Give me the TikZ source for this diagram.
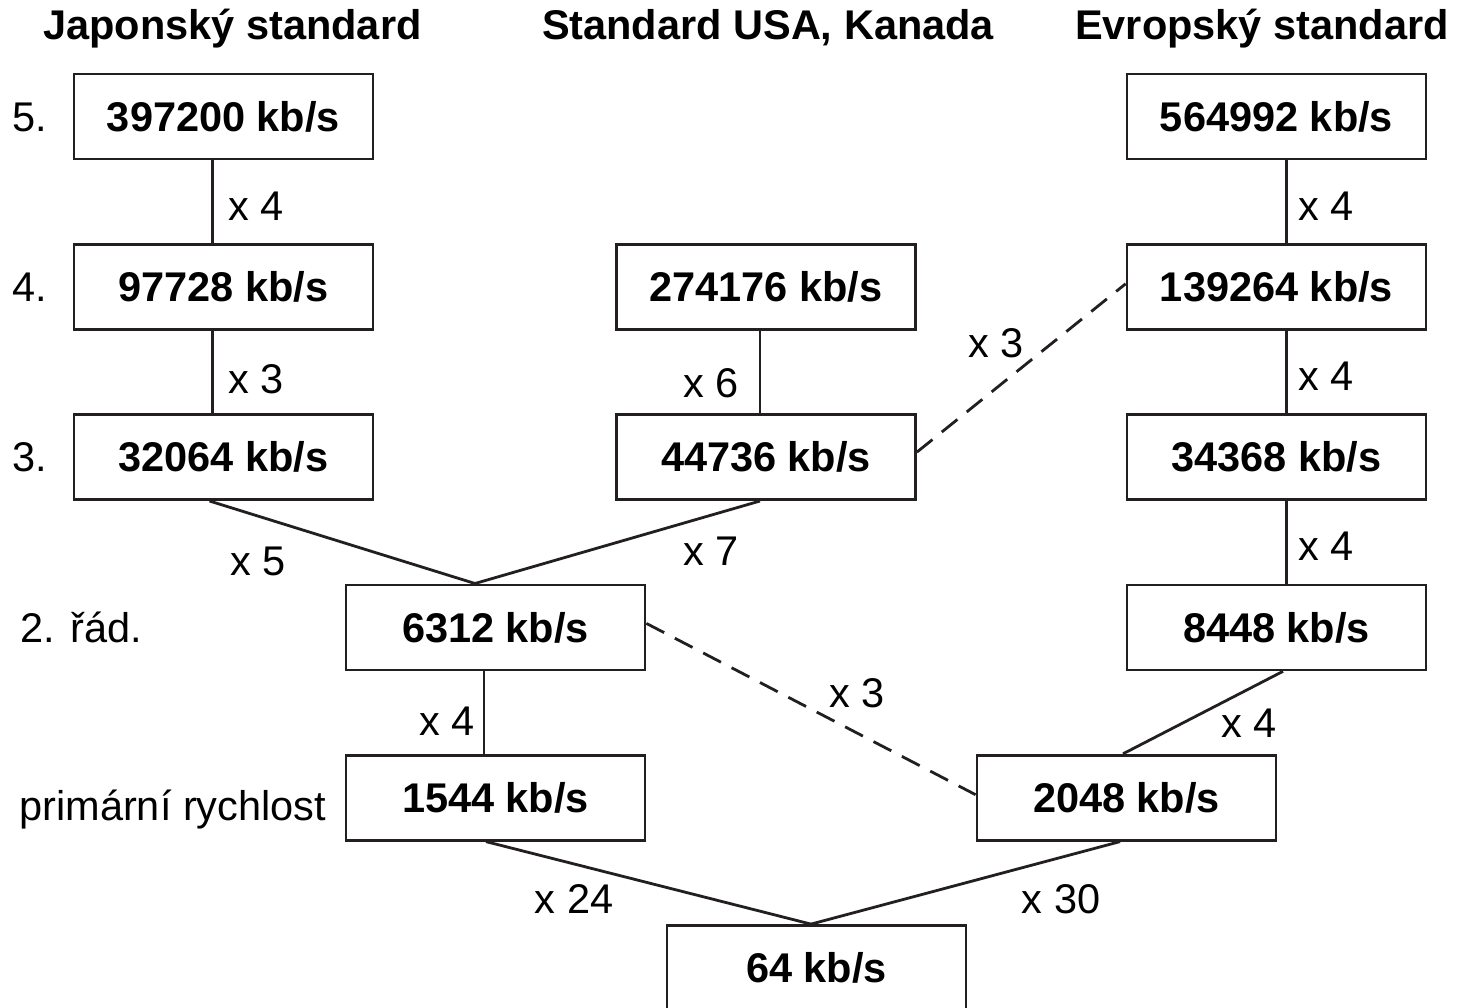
\documentclass[tikz,border=0pt]{standalone}
\usepackage{fontspec}
\setmainfont{Liberation Sans}
\definecolor{ink}{HTML}{231F20}
\begin{document}
\begin{tikzpicture}[x=0.5pt,y=-0.5pt,
  box/.style={draw=ink, line width=1.4pt, text=black, minimum width=149.5pt, minimum height=42.5pt, inner sep=0pt, font=\fontsize{20.75}{24}\selectfont\bfseries},
  lbl/.style={text=black, inner sep=0pt, anchor=base, font=\fontsize{20.75}{24}\selectfont},
  rowlbl/.style={text=black, inner sep=0pt, anchor=base west, font=\fontsize{20.75}{24}\selectfont},
  hdr/.style={text=black, inner sep=0pt, anchor=base, font=\fontsize{20.75}{24}\selectfont\bfseries},
  conn/.style={draw=ink, line width=1.4pt},
  dconn/.style={conn, dash pattern=on 10pt off 6pt}]
\useasboundingbox (0,0) rectangle (1459,1007);
\clip (0,0) rectangle (1459,1007);
\fill[white] (0,0) rectangle (1459,1007);

% headers
\node[hdr] (hJ) at (232.5,39) {Japonský standard};
\node[hdr] (hU) at (768,39) {Standard USA, Kanada};
\node[hdr] (hE) at (1262,39) {Evropský standard};

% row labels
\node[rowlbl] (r5) at (12,131.3) {5.};
\node[rowlbl] (r4) at (12,301.6) {4.};
\node[rowlbl] (r3) at (12,471.9) {3.};
\node[rowlbl] (r2) at (20,642.2) {2. řád.};
\node[rowlbl] (r1) at (19,820) {primární rychlost};

% boxes
\node[box] (J5) at (223.5,116.5) {397200 kb/s};
\node[box] (J4) at (223.5,286.8) {97728 kb/s};
\node[box] (J3) at (223.5,457.1) {32064 kb/s};
\node[box] (U4) at (766,286.8) {274176 kb/s};
\node[box] (U3) at (766,457.1) {44736 kb/s};
\node[box] (E5) at (1276.5,116.5) {564992 kb/s};
\node[box] (E4) at (1276.5,286.8) {139264 kb/s};
\node[box] (E3) at (1276.5,457.1) {34368 kb/s};
\node[box] (E2) at (1276.5,627.4) {8448 kb/s};
\node[box] (N2) at (495.5,627.4) {6312 kb/s};
\node[box] (N1) at (495.5,797.7) {1544 kb/s};
\node[box] (E1) at (1126.5,797.7) {2048 kb/s};
\node[box] (B) at (816.5,968) {64 kb/s};

% connectors
\draw[conn] ([xshift=-5.5pt]J5.south) -- ([xshift=-5.5pt]J4.north);
\draw[conn] ([xshift=-5.5pt]J4.south) -- ([xshift=-5.5pt]J3.north);
\draw[conn] ([xshift=-3pt]U4.south) -- ([xshift=-3pt]U3.north);
\draw[conn] ([xshift=5pt]E5.south) -- ([xshift=5pt]E4.north);
\draw[conn] ([xshift=5pt]E4.south) -- ([xshift=5pt]E3.north);
\draw[conn] ([xshift=5pt]E3.south) -- ([xshift=5pt]E2.north);
\draw[conn] ([xshift=-7pt]J3.south) -- ([xshift=-10.25pt]N2.north);
\draw[conn] ([xshift=-3pt]U3.south) -- ([xshift=-10.25pt]N2.north);
\draw[conn] ([xshift=-5.75pt]N2.south) -- ([xshift=-5.75pt]N1.north);
\draw[conn] ([xshift=3.25pt]E2.south) -- ([xshift=-1.75pt]E1.north);
\draw[conn] ([xshift=-4.75pt]N1.south) -- ([xshift=-2.75pt]B.north);
\draw[conn] ([xshift=-3.25pt]E1.south) -- ([xshift=-2.75pt]B.north);
\draw[dconn] ([yshift=2.5pt]U3.east) -- ([yshift=1.5pt]E4.west);
\draw[dconn] ([yshift=2pt]N2.east) -- ([yshift=1.5pt]E1.west);

% multiplier labels
\node[lbl] (m1) at (256,220) {x 4};
\node[lbl] (m2) at (256,393) {x 3};
\node[lbl] (m3) at (711,397) {x 6};
\node[lbl] (m4) at (996,357) {x 3};
\node[lbl] (m5) at (1326,220) {x 4};
\node[lbl] (m6) at (1326,390) {x 4};
\node[lbl] (m7) at (1326,560) {x 4};
\node[lbl] (m8) at (258,575) {x 5};
\node[lbl] (m9) at (711,565) {x 7};
\node[lbl] (m10) at (447,735) {x 4};
\node[lbl] (m11) at (857,707) {x 3};
\node[lbl] (m12) at (1249,737) {x 4};
\node[lbl] (m13) at (574,913) {x 24};
\node[lbl] (m14) at (1061,913) {x 30};
\end{tikzpicture}
\end{document}
